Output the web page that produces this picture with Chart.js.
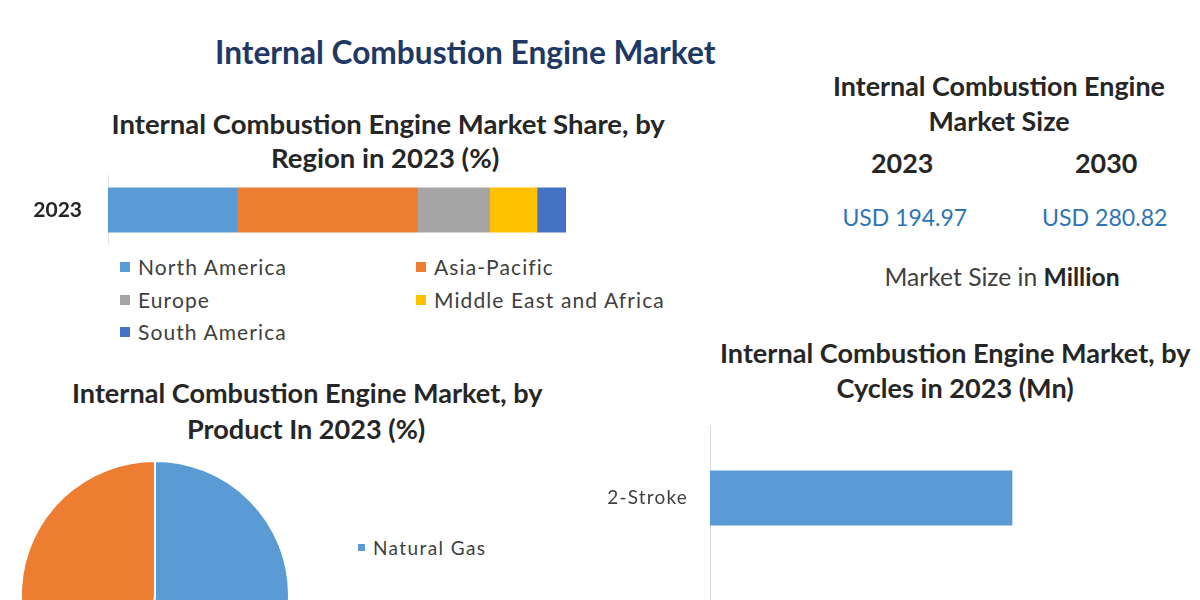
<!DOCTYPE html>
<html><head><meta charset="utf-8">
<script src="https://cdn.jsdelivr.net/npm/chart.js@4.4.0/dist/chart.umd.min.js"></script>
<style>
html,body{margin:0;padding:0;background:#fff;width:1200px;height:600px;overflow:hidden;}
body{position:relative;font-family:Lato,"Open Sans",sans-serif;}
.t{position:absolute;white-space:nowrap;line-height:1;}
.box{position:absolute;}
.lg{position:absolute;white-space:nowrap;color:#404040;line-height:1;}
.lg i{display:inline-block;margin-right:8px;vertical-align:middle;position:relative;top:-2px;}
</style></head><body>
<div class="box" style="left:0;top:175px;width:600px;height:70px"><canvas id="cRegion"></canvas></div>
<div class="box" style="left:20px;top:460px;width:270px;height:270px"><canvas id="cProduct"></canvas></div>
<div class="box" style="left:580px;top:425px;width:620px;height:292px"><canvas id="cCycle"></canvas></div>
<script>
// ---- data ----
const regionYears = ['2023'];
const regionNames = ['North America','Asia-Pacific','Europe','Middle East and Africa','South America'];
const regionShares = [28.4, 39.3, 15.7, 10.3, 6.3];
const regionColors = ['#5b9bd5','#ed7d31','#a5a5a5','#ffc000','#4472c4'];

const productNames = ['Natural Gas','Petroleum'];
const productShares = [52, 48];
const productColors = ['#5b9bd5','#ed7d31'];

const cycleNames = ['2-Stroke','4-Stroke'];
const cycleValues = [96.5, 128];

const sizeYears = ['2023','2030'];
const sizeValues = [194.97, 280.82];

// ---- text helper: cx, cy, target width (or fixed font size) ----
function txt(s, cx, cy, w, weight, color, fixedSize){
  const d = document.createElement('div');
  d.className = 't';
  d.textContent = s;
  d.style.fontWeight = weight;
  d.style.color = color;
  d.style.fontSize = '20px';
  document.body.appendChild(d);
  const fs = fixedSize || 20 * w / d.offsetWidth;
  d.style.fontSize = fs.toFixed(2) + 'px';
  d.style.left = (cx - d.offsetWidth/2) + 'px';
  d.style.top = (cy - d.offsetHeight/2) + 'px';
  return d;
}
const dark = '#262626';
txt('Internal Combustion Engine Market', 465, 53, 500, 700, '#203864');
const l1 = txt('Internal Combustion Engine Market Share, by', 388, 124, 553, 700, dark);
txt('Region in 2023 (%)', 385, 158, 0, 700, dark, parseFloat(l1.style.fontSize));
const p1 = txt('Internal Combustion Engine Market, by', 307, 392, 470, 700, dark);
txt('Product In 2023 (%)', 306, 428, 0, 700, dark, parseFloat(p1.style.fontSize));
const c1 = txt('Internal Combustion Engine Market, by', 955, 352, 470, 700, dark);
txt('Cycles in 2023 (Mn)', 955, 387, 0, 700, dark, parseFloat(c1.style.fontSize));
const m1 = txt('Internal Combustion Engine', 999, 86, 332, 700, dark);
txt('Market Size', 999, 121, 0, 700, dark, parseFloat(m1.style.fontSize));
txt(sizeYears[0], 902, 163, 0, 700, dark, parseFloat(m1.style.fontSize));
txt(sizeYears[1], 1106, 163, 0, 700, dark, parseFloat(m1.style.fontSize));
txt('USD ' + sizeValues[0].toFixed(2), 905, 217, 125, 400, '#2e75b6');
txt('USD ' + sizeValues[1].toFixed(2), 1105, 217, 126, 400, '#2e75b6');
const ms = txt('Market Size in ', 1002, 277, 235, 400, '#404040');
ms.innerHTML = 'Market Size in <b style="color:#262626">Million</b>';
{ const fs = parseFloat(ms.style.fontSize); const f = 235/ms.offsetWidth; ms.style.fontSize=(fs*f).toFixed(2)+'px'; ms.style.left=(1002-ms.offsetWidth/2)+'px'; ms.style.top=(277-ms.offsetHeight/2)+'px'; }

// ---- legends ----
function legendItem(label, color, x, y, size, box, ls){
  const d = document.createElement('div');
  d.className = 'lg';
  d.style.fontSize = size + 'px';
  d.style.letterSpacing = ls + 'px';
  d.innerHTML = '<i style="background:'+color+';width:'+box+'px;height:'+box+'px"></i>' + label;
  document.body.appendChild(d);
  d.style.left = x + 'px';
  d.style.top = (y - d.offsetHeight/2) + 'px';
}
const regLegPos = [[120,266],[416,266],[120,299],[416,299],[120,331]];
regionNames.forEach((n,i)=>legendItem(n, regionColors[i], regLegPos[i][0], regLegPos[i][1], 21, 10, 1.1));
productNames.forEach((n,i)=>legendItem(n, productColors[i], 358, 547 + i*100, 19, 7, 1.4));

Chart.defaults.font.family = 'Lato, "Open Sans", sans-serif';
Chart.defaults.animation = false;

function fitY(width){
  return function(s){ s.width = width; s.paddingTop = 0; s.paddingBottom = 0; };
}
const spacing = px => ({ id:'ls', beforeDraw(c){ c.ctx.letterSpacing = px + 'px'; } });

// ---- region stacked bar ----
new Chart(document.getElementById('cRegion'), {
  type: 'bar',
  data: {
    labels: regionYears,
    datasets: regionNames.map((n,i)=>({label:n, data:[regionShares[i]], backgroundColor:regionColors[i], barPercentage:0.643, categoryPercentage:1}))
  },
  options: {
    indexAxis:'y', responsive:true, maintainAspectRatio:false,
    layout:{padding:{left:0,right:34,top:0,bottom:0}},
    plugins:{legend:{display:false}, tooltip:{enabled:false}},
    scales:{
      x:{stacked:true, min:0, max:100, display:false},
      y:{stacked:true, grid:{display:false, drawTicks:false}, border:{display:true,color:'#e3e3e3'},
         ticks:{font:{size:21, weight:'bold'}, color:'#262626', padding:26},
         afterFit: fitY(108)}
    }
  }
});

// ---- product pie ----
new Chart(document.getElementById('cProduct'), {
  type: 'pie',
  data: { labels: productNames, datasets:[{data:productShares, backgroundColor:productColors, borderColor:'#ffffff', borderWidth:2, hoverOffset:0}] },
  options: { responsive:true, maintainAspectRatio:false, layout:{padding:0},
    plugins:{legend:{display:false}, tooltip:{enabled:false}} }
});

// ---- cycles bar ----
new Chart(document.getElementById('cCycle'), {
  type: 'bar',
  data: { labels: cycleNames, datasets:[{data:cycleValues, backgroundColor:'#5b9bd5', barPercentage:0.377, categoryPercentage:1}] },
  options: {
    indexAxis:'y', responsive:true, maintainAspectRatio:false,
    layout:{padding:{left:0,right:20,top:0,bottom:0}},
    plugins:{legend:{display:false}, tooltip:{enabled:false}},
    scales:{
      x:{min:0, max:150, display:false},
      y:{grid:{display:false, drawTicks:false}, border:{display:true,color:'#d9d9d9'},
         ticks:{font:{size:19}, color:'#404040', padding:22},
         afterFit: fitY(130)}
    }
  },
  plugins:[spacing(1.2)]
});
</script>
</body></html>
